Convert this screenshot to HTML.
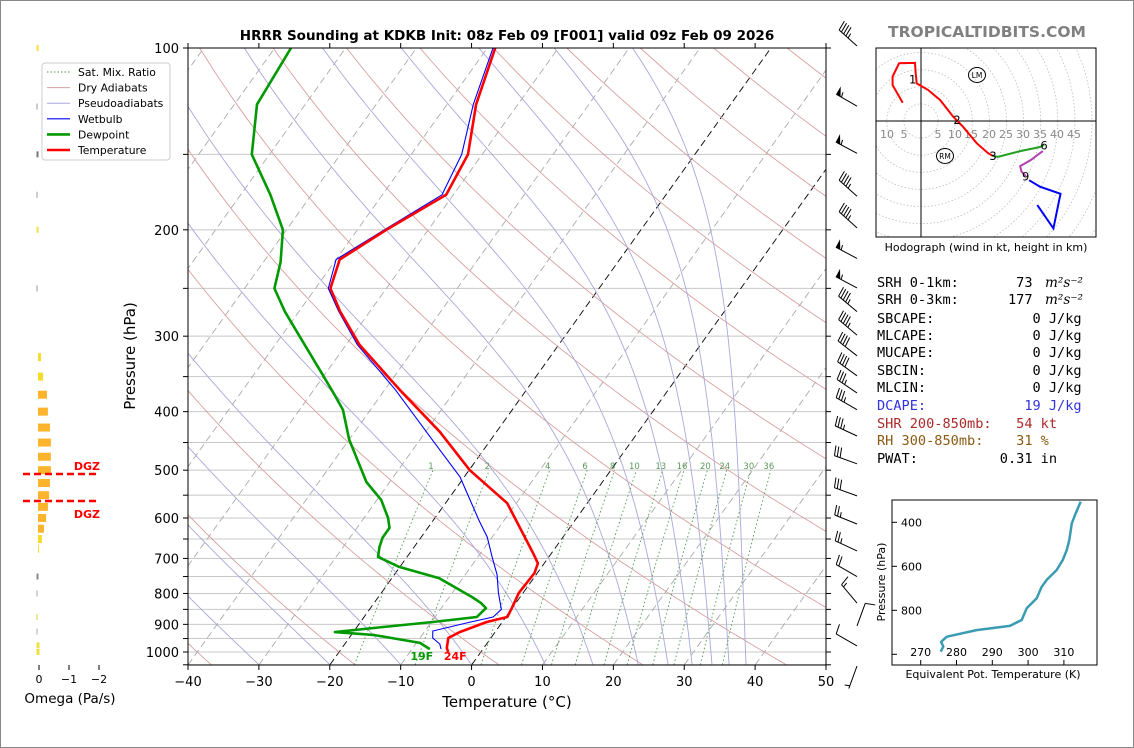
<!DOCTYPE html>
<html><head><meta charset="utf-8"><title>HRRR Sounding KDKB</title>
<style>
html,body{margin:0;padding:0;background:#fff;}
svg{display:block;font-family:"DejaVu Sans","Liberation Sans",sans-serif;}
</style></head>
<body>
<svg id="fig" width="1134" height="748" viewBox="0 0 1134 748" xmlns="http://www.w3.org/2000/svg">
<defs>
<clipPath id="mainclip"><rect x="188" y="48" width="638" height="617"/></clipPath>
<clipPath id="hodoclip"><rect x="876" y="48" width="220" height="189"/></clipPath>
<clipPath id="theclip"><rect x="892" y="500" width="205" height="165"/></clipPath>
</defs>
<rect x="0.5" y="0.5" width="1133" height="747" fill="#fff" stroke="#888"/>
<text x="507" y="40" font-size="13.5" font-weight="bold" text-anchor="middle">HRRR Sounding at KDKB Init: 08z Feb 09 [F001] valid 09z Feb 09 2026</text>
<text x="987" y="37" font-size="15.5" font-weight="bold" fill="#808080" text-anchor="middle">TROPICALTIDBITS.COM</text>
<g id="bg" clip-path="url(#mainclip)"></g>
<g id="profiles" clip-path="url(#mainclip)"></g>
<g id="axes"></g>
<g id="barbs"></g>
<g id="omega"></g>
<g id="hodo"></g>
<g id="stats"></g>
<g id="thetae"></g>
<g id="legend"></g>
</svg>
<script>
// ---------- data ----------
const tempP = [1000,985,948,927,892,875,842,798,740,713,686,567,500,432,368,310,273,250,224,200,175,150,124,100];
const tempT = [-4.6,-5.2,-6,-5,-2.2,0.2,-0.1,-0.6,-0.4,-0.9,-2.6,-11.3,-19.9,-28,-37.9,-48.1,-54.2,-57.9,-59.5,-55.9,-51,-52,-55.9,-58.9];
const dewP = [989,966,937,927,909,892,875,846,830,811,755,723,696,670,647,623,600,560,523,445,397,375,341,299,273,250,226,200,175,150,124,100];
const dewT = [-7.5,-9.5,-16.9,-22.6,-16.3,-9.8,-4.1,-3.7,-4.9,-6.8,-13.3,-20.1,-24.1,-24.9,-25.4,-25.4,-26.6,-29.4,-33.3,-40,-43.9,-46.6,-51.2,-57.6,-62,-65.8,-67.6,-70.5,-75.8,-82.5,-86.8,-87.7];
const wbP = [989,970,948,923,895,875,850,798,745,696,645,606,513,445,368,310,273,250,224,200,175,150,124,100];
const wbT = [-5.9,-6.6,-8.2,-8.9,-4.9,-1.8,-1.4,-3.5,-5.5,-8,-10.7,-13.5,-20.6,-28.3,-38.5,-48.4,-54.4,-58.2,-60,-56.2,-51.6,-52.9,-56.3,-59.2];
const mixRatios = [1,2,4,6,8,10,13,16,20,24,30,36];
const moistStarts = [-30,-20,-10,0,10.4,17.1,23.5,27.7,31.1,33.9,36.3,38.7];
const barbP = [97,122,146,172,194,218,244,267,292,316,341,364,388,429,477,539,600,665,733,811,885,955,1031];
const barbSpd = [45,55,55,45,45,55,55,45,45,40,40,35,35,35,30,30,25,25,20,15,10,10,5];
const barbDir = [312,300,298,312,312,298,298,310,310,308,306,304,300,295,290,290,292,295,300,320,20,300,200];
const omegaP = [325,350,375,400,425,450,475,500,525,550,575,600,625,650,675];
const omegaV = [-0.1,-0.17,-0.3,-0.33,-0.4,-0.43,-0.43,-0.43,-0.4,-0.37,-0.33,-0.27,-0.2,-0.13,-0.03];
const hodoRedU = [-5.35,-8.3,-8.3,-6.4,-1.75,-1.55,-1.26,2.05,5.6,9.4,12.3,16.3,19.6,21];
const hodoRedV = [5.35,10.5,13,16.9,17,13.9,11,9.1,6.1,1.3,-1.7,-6.5,-9.4,-10.2];
const hodoGreenU = [21,22.5,29,34.8,36];
const hodoGreenV = [-10.2,-10.5,-8.8,-7.6,-7];
const hodoMagU = [35.6,32.1,29,29.4,30.6];
const hodoMagV = [-8.8,-11.4,-13.2,-14.8,-16.1];
const hodoBlueU = [31.6,34.8,40.8,38.7,34];
const hodoBlueV = [-17.3,-19.2,-21.3,-31.4,-24.6];
const thetaE = [314.7,313.1,312.2,311.5,310.8,309.7,308,305.2,303.8,302.4,299.6,298.2,294.9,285.6,277.3,275.7,276.3,275.6];
const thetaEP = [306,367,405,480,526,571,617,662,693,745,791,844,871,890,920,943,965,988];
const xTicks = [-40,-30,-20,-10,0,10,20,30,40,50];
const pLabels = [100,200,300,400,500,600,700,800,900,1000];

// ---------- helpers ----------
const NS = "http://www.w3.org/2000/svg";
function mk(parent, tag, attrs, text){
  const e = document.createElementNS(NS, tag);
  for (const k in attrs) e.setAttribute(k, attrs[k]);
  if (text !== undefined) e.textContent = text;
  parent.appendChild(e);
  return e;
}
const P2Y = p => 652 + 604*Math.log10(p/1000);
const TX = (T,p) => 188 + (T+40)*7.089 + 0.715*(665-P2Y(p));
function pathFrom(Ts, Ps){ return Ts.map((t,i)=>(i?'L':'M')+TX(t,Ps[i]).toFixed(1)+','+P2Y(Ps[i]).toFixed(1)).join(''); }

const bg = document.getElementById('bg');
for (let p=100; p<=1050; p+=50){
  const l = mk(bg,'line',{x1:188,x2:826,y1:P2Y(p),y2:P2Y(p),stroke:'#c8c8c8','stroke-width':1});
  
  
}
for (let t=-130; t<=50; t+=10){
  const dark = (t===0||t===-20);
  const l = mk(bg,'line',{x1:TX(t,1050),y1:P2Y(1050),x2:TX(t,100),y2:P2Y(100),stroke:dark?'#000':'#aaa','stroke-width':0.9,'stroke-dasharray':'7,4'});
  
  
}
for (let n=-6; n<=16; n++){
  const th = 273.15 + 20*n; let d='';
  for (let p=1050; p>=100; p-=10){ const T = th*Math.pow(p/1000,0.2857)-273.15; d += (d?'L':'M')+TX(T,p).toFixed(1)+','+P2Y(p).toFixed(1); }
  const e = mk(bg,'path',{d:d,fill:'none',stroke:'#d9a0a0','stroke-width':0.9});
  
  
}
function es(T){ return 6.112*Math.exp(17.67*T/(T+243.5)); }
moistStarts.forEach(t0=>{
  let T = t0+273.15, d='';
  for (let p=1050; p>=100; p-=5){
    d += (d?'L':'M')+TX(T-273.15,p).toFixed(1)+','+P2Y(p).toFixed(1);
    const rs = 0.622*es(T-273.15)/(p-es(T-273.15));
    const dTdp = (287*T + 2.5e6*rs)/(1005 + 2.5e6*2.5e6*rs*0.622/(287*T*T))/p;
    T -= dTdp*5;
  }
  const e = mk(bg,'path',{d:d,fill:'none',stroke:'#a8a8dc','stroke-width':0.9});
  
  
});
function tdFromW(w,p){ const e = w*p/(622+w); const a = Math.log(e/6.112); return 243.5*a/(17.67-a); }
mixRatios.forEach(w=>{
  let d='';
  for (let p=1050; p>=500; p-=10){ d += (d?'L':'M')+TX(tdFromW(w,p),p).toFixed(1)+','+P2Y(p).toFixed(1); }
  const e = mk(bg,'path',{d:d,fill:'none',stroke:'#4a9a4a','stroke-width':0.9,'stroke-dasharray':'1.5,2.5'});
  
  
  const lb = mk(bg,'text',{x:TX(tdFromW(w,500),500)-2,y:469,'font-size':8.5,fill:'#5a9a5a','text-anchor':'middle'},String(w));
  
  
});

const prof = document.getElementById('profiles');
const pw = mk(prof,'path',{d:pathFrom(wbT,wbP),fill:'none',stroke:'#0000ff','stroke-width':1.1});


const pd = mk(prof,'path',{d:pathFrom(dewT,dewP),fill:'none',stroke:'#009900','stroke-width':2.6,'stroke-linejoin':'round'});


const pt = mk(prof,'path',{d:pathFrom(tempT,tempP),fill:'none',stroke:'#ff0000','stroke-width':2.6,'stroke-linejoin':'round'});


const ldw = mk(prof,'text',{x:TX(dewT[0],dewP[0])-8,y:660,'font-size':11,'font-weight':'bold',fill:'#009900','text-anchor':'middle'},'19F');


const ltp = mk(prof,'text',{x:TX(tempT[0],tempP[0])+7,y:660,'font-size':11,'font-weight':'bold',fill:'#ff0000','text-anchor':'middle'},'24F');



const ax = document.getElementById('axes');
const fr = mk(ax,'rect',{x:188,y:48,width:638,height:617,fill:'none',stroke:'#000','stroke-width':1});


xTicks.forEach(t=>{
  const x = 188+(t+40)*7.089;
  mk(ax,'line',{x1:x,x2:x,y1:665,y2:670,stroke:'#000'});
  mk(ax,'line',{x1:x,x2:x,y1:43,y2:48,stroke:'#000'});
  const lb = mk(ax,'text',{x:x,y:686,'font-size':13,'text-anchor':'middle'},(t<0?'\u2212'+(-t):String(t)));
  
  
});
for (let p=100; p<=1050; p+=50){
  const y = P2Y(p);
  mk(ax,'line',{x1:183,x2:188,y1:y,y2:y,stroke:'#000'});
  mk(ax,'line',{x1:826,x2:831,y1:y,y2:y,stroke:'#000'});
}
pLabels.forEach(p=>{
  const lb = mk(ax,'text',{x:179,y:P2Y(p)+5,'font-size':13,'text-anchor':'end'},String(p));
  
  
});
const xt = mk(ax,'text',{x:507,y:707,'font-size':15,'text-anchor':'middle'},'Temperature (\u00B0C)');


const yt = mk(ax,'text',{x:135,y:356,'font-size':15,'text-anchor':'middle',transform:'rotate(-90 135 356)'},'Pressure (hPa)');



const bb = document.getElementById('barbs');
barbP.forEach((p,i)=>{
  const g = mk(bb,'g',{});
  
  
  const bx = 857, by = P2Y(p)+6, L = 24;
  const r = barbDir[i]*Math.PI/180, dx = Math.sin(r), dy = -Math.cos(r);
  const tx = bx+L*dx, ty = by+L*dy;
  mk(g,'line',{x1:bx,y1:by,x2:tx,y2:ty,stroke:'#000','stroke-width':1});
  const px = -dy, py = dx;
  let s = barbSpd[i], pos = 0;
  while (s >= 50){
    const ax1 = tx - dx*pos, ay1 = ty - dy*pos;
    const ax2 = tx - dx*(pos+5), ay2 = ty - dy*(pos+5);
    mk(g,'polygon',{points:`${ax1},${ay1} ${ax2},${ay2} ${ax1+px*9},${ay1+py*9}`,fill:'#000'});
    pos += 6; s -= 50;
  }
  while (s >= 10){
    const sx = tx - dx*pos, sy = ty - dy*pos;
    mk(g,'line',{x1:sx,y1:sy,x2:sx+px*10+dx*2,y2:sy+py*10+dy*2,stroke:'#000','stroke-width':1});
    pos += 3; s -= 10;
  }
  if (s >= 5){
    if (pos===0) pos = 3;
    const sx = tx - dx*pos, sy = ty - dy*pos;
    mk(g,'line',{x1:sx,y1:sy,x2:sx+px*5+dx,y2:sy+py*5+dy,stroke:'#000','stroke-width':1});
  }
});

const om = document.getElementById('omega');
const OX = v => 38 - v*30;
omegaP.forEach((p,i)=>{
  const v = omegaV[i];
  const r = mk(om,'rect',{x:38,y:P2Y(p)-4,width:Math.max(1,OX(v)-38),height:8,fill:(v>-0.2?'#f5dc28':'#fbb42c')});
  
  
});
[[100,'#f0e040',2],[200,'#f0e040',2],[975,'#f0e040',3],[1000,'#f0e040',3],[150,'#777',2],[125,'#999',1],[175,'#999',1],[250,'#999',1],[750,'#888',2],[800,'#aaa',1],[875,'#e0d040',1],[925,'#aaa',1]].forEach(a=>{
  const r = mk(om,'rect',{x:36.5,y:P2Y(a[0])-3,width:a[2],height:6,fill:a[1]});
  
  
});
[[474,'DGZ',466],[501,'DGZ',514]].forEach(a=>{
  const l = mk(om,'line',{x1:23,x2:99,y1:a[0],y2:a[0],stroke:'#ff0000','stroke-width':2.5,'stroke-dasharray':'7,4'});
  
  
  const t = mk(om,'text',{x:100,y:a[2]+4,'font-size':11,'font-weight':'bold',fill:'#ff0000','text-anchor':'end'},a[1]);
  
  
});
[0,-1,-2].forEach(v=>{
  mk(om,'line',{x1:OX(v)+1,x2:OX(v)+1,y1:665,y2:670,stroke:'#000'});
  const t = mk(om,'text',{x:OX(v)+1,y:683,'font-size':11,'text-anchor':'middle'},v===0?'0':'\u2212'+(-v));
  
  
});
const ot = mk(om,'text',{x:70,y:703,'font-size':13.5,'text-anchor':'middle'},'Omega (Pa/s)');



const hd = document.getElementById('hodo');
const HX = u => 921 + u*3.42, HY = v => 121 - v*3.42;
const hc = mk(hd,'g',{'clip-path':'url(#hodoclip)'});
for (let r=5; r<=70; r+=5){
  const c = mk(hc,'circle',{cx:HX(0),cy:HY(0),r:r*3.42,fill:'none',stroke:'#bbb','stroke-width':0.8,'stroke-dasharray':'1.5,2'});
  
  
}
mk(hc,'line',{x1:876,x2:1096,y1:HY(0),y2:HY(0),stroke:'#000','stroke-width':1});
mk(hc,'line',{x1:HX(0),x2:HX(0),y1:48,y2:237,stroke:'#000','stroke-width':1});
[[10,887],[5,904],[5,938],[10,955],[15,971],[20,989],[25,1006],[30,1023],[35,1040],[40,1057],[45,1074]].forEach(a=>{
  const t = mk(hc,'text',{x:a[1],y:138,'font-size':11,fill:'#888','text-anchor':'middle'},String(a[0]));
  
  
});
[[hodoRedU,hodoRedV,'#ff0000','hodograph-0-3km'],[hodoGreenU,hodoGreenV,'#22a022','hodograph-3-6km'],[hodoMagU,hodoMagV,'#b040b0','hodograph-6-9km'],[hodoBlueU,hodoBlueV,'#0000ff','hodograph-9-12km']].forEach(s=>{
  const d = s[0].map((u,i)=>(i?'L':'M')+HX(u).toFixed(1)+','+HY(s[1][i]).toFixed(1)).join('');
  const e = mk(hc,'path',{d:d,fill:'none',stroke:s[2],'stroke-width':2});
  
  
});
[['1',912.7,83.5],['2',957,124],['3',993,160],['6',1044,149.5],['9',1025.7,180.5]].forEach(a=>{
  const t = mk(hc,'text',{x:a[1],y:a[2],'font-size':11.5,'text-anchor':'middle'},a[0]);
  
  
});
[['LM',977,75],['RM',945,156]].forEach(a=>{
  mk(hc,'ellipse',{cx:a[1],cy:a[2],rx:8.5,ry:7.5,fill:'none',stroke:'#000','stroke-width':1});
  const t = mk(hc,'text',{x:a[1],y:a[2]+3,'font-size':7.5,'text-anchor':'middle'},a[0]);
  
  
});
mk(hd,'rect',{x:876,y:48,width:220,height:189,fill:'none',stroke:'#000','stroke-width':1});
const htl = mk(hd,'text',{x:986,y:251,'font-size':11,'text-anchor':'middle'},'Hodograph (wind in kt, height in km)');



const st = document.getElementById('stats');
const rows = [
 ['SRH 0-1km:       73 ','#000',282,'m\u00B2s\u207B\u00B2'],
 ['SRH 0-3km:      177 ','#000',299,'m\u00B2s\u207B\u00B2'],
 ['SBCAPE:            0 J/kg','#000',318],
 ['MLCAPE:            0 J/kg','#000',335],
 ['MUCAPE:            0 J/kg','#000',352],
 ['SBCIN:             0 J/kg','#000',370],
 ['MLCIN:             0 J/kg','#000',387],
 ['DCAPE:            19 J/kg','#3333dd',405],
 ['SHR 200-850mb:   54 kt','#aa2a2a',423],
 ['RH 300-850mb:    31 %','#8b5a14',440],
 ['PWAT:          0.31 in','#000',458]
];
rows.forEach(r=>{
  const t = mk(st,'text',{x:877,y:r[2]+5,'font-size':13.6,fill:r[1],'font-family':'"DejaVu Sans Mono","Liberation Mono",monospace','xml:space':'preserve'},r[0]);
  t.style.whiteSpace='pre';
  
  
  if (r[3]){
    const u = mk(st,'text',{x:1045,y:r[2]+5,'font-size':13.6,'font-style':'italic','font-family':'"DejaVu Serif","Liberation Serif",serif'},r[3]);
    
    
  }
});

const te = document.getElementById('thetae');
const EX = v => 920.7 + (v-270)*3.58, EY = p => 522.3 + (p-400)*0.22;
const tc = mk(te,'g',{'clip-path':'url(#theclip)'});
const ep = mk(tc,'path',{d:thetaE.map((v,i)=>(i?'L':'M')+EX(v).toFixed(1)+','+EY(thetaEP[i]).toFixed(1)).join(''),fill:'none',stroke:'#3a9cb2','stroke-width':2.5,'stroke-linejoin':'round'});


mk(te,'rect',{x:892,y:500,width:205,height:165,fill:'none',stroke:'#000','stroke-width':1});
[400,600,800,1000].forEach(p=>{
  mk(te,'line',{x1:892,x2:897,y1:EY(p),y2:EY(p),stroke:'#000'});
  if (p<1000){
    const t = mk(te,'text',{x:901,y:EY(p)+4,'font-size':11},String(p));
    
    
  }
});
[270,280,290,300,310].forEach(v=>{
  mk(te,'line',{x1:EX(v),x2:EX(v),y1:660,y2:665,stroke:'#000'});
  const t = mk(te,'text',{x:EX(v),y:656,'font-size':11,'text-anchor':'middle'},String(v));
  
  
});
const tex = mk(te,'text',{x:993,y:678,'font-size':11,'text-anchor':'middle'},'Equivalent Pot. Temperature (K)');


const tey = mk(te,'text',{x:885,y:582,'font-size':11,'text-anchor':'middle',transform:'rotate(-90 885 582)'},'Pressure (hPa)');



const lg = document.getElementById('legend');
mk(lg,'rect',{x:42,y:63,width:128,height:97,rx:3,fill:'#fff',stroke:'#ccc','stroke-width':1});
[['Sat. Mix. Ratio','#4a9a4a',1,'1.5,2'],['Dry Adiabats','#d9a0a0',1,''],['Pseudoadiabats','#a8a8dc',1,''],['Wetbulb','#0000ff',1.2,''],['Dewpoint','#009900',2.6,''],['Temperature','#ff0000',2.6,'']].forEach((a,i)=>{
  const y = 72 + i*15.6;
  const g = mk(lg,'g',{});
  
  
  const la = {x1:47,x2:70,y1:y,y2:y,stroke:a[1],'stroke-width':a[2]};
  if (a[3]) la['stroke-dasharray']=a[3];
  mk(g,'line',la);
  mk(g,'text',{x:78,y:y+4,'font-size':10.8},a[0]);
});
</script>
</body></html>
